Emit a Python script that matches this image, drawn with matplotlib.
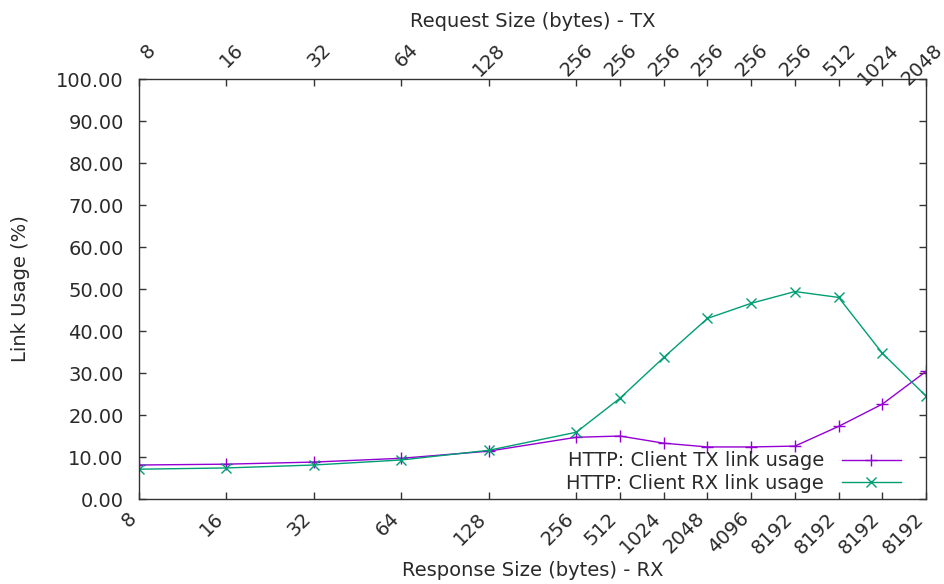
import numpy as np
import matplotlib.pyplot as plt

# response / request sizes for each run (bytes)
rx_size = [8, 16, 32, 64, 128, 256, 512, 1024, 2048, 4096, 8192, 8192, 8192, 8192]
tx_size = [8, 16, 32, 64, 128, 256, 256, 256, 256, 256, 256, 512, 1024, 2048]

# link usage (%)
tx_usage = [8.1, 8.3, 8.8, 9.7, 11.4, 14.7, 15.0, 13.3, 12.4, 12.4, 12.6, 17.3, 22.6, 30.4]
rx_usage = [7.1, 7.4, 8.1, 9.3, 11.6, 15.9, 24.0, 33.7, 43.0, 46.6, 49.4, 48.0, 34.7, 24.5]

x = np.log2(np.array(rx_size) * np.array(tx_size))

txt = '#2a2a2a'
plt.rcParams['font.family'] = 'DejaVu Sans'
plt.rcParams['font.size'] = 14

fig = plt.figure(figsize=(9.45, 5.84), dpi=100)
ax = fig.add_axes([0.147, 0.1455, 0.833, 0.7192])

ax.plot(x, tx_usage, color='#9400d3', linewidth=1, marker='+', markersize=9,
        markeredgewidth=1, label='HTTP: Client TX link usage')
ax.plot(x, rx_usage, color='#009e73', linewidth=1, marker='x', markersize=7,
        markeredgewidth=1, label='HTTP: Client RX link usage')

ax.set_xlim(x[0], x[-1])
ax.set_ylim(0, 100)
ax.set_yticks(np.arange(0, 101, 10))
ax.set_yticklabels(['%.2f' % v for v in np.arange(0, 101, 10)], color=txt)
ax.set_xticks(x)
ax.set_xticklabels([])
ax.tick_params(direction='in', length=5, width=1, color='#333333',
               right=True, top=True, pad=11)

# rotated tick labels, gnuplot style (right justified, rotate by 45)
trans = ax.get_xaxis_transform()
for xi, r, t in zip(x, rx_size, tx_size):
    ax.annotate(str(r), xy=(xi, 0), xycoords=trans, xytext=(-4, -12),
                textcoords='offset points', ha='right', va='center',
                rotation=45, rotation_mode='anchor', color=txt,
                annotation_clip=False)
    ax.annotate(str(t), xy=(xi, 1), xycoords=trans, xytext=(10, 23),
                textcoords='offset points', ha='right', va='center',
                rotation=45, rotation_mode='anchor', color=txt,
                annotation_clip=False)

for s in ax.spines.values():
    s.set_color('#333333')
    s.set_linewidth(1)

ax.set_xlabel('Response Size (bytes) - RX', color=txt, va='center')
ax.xaxis.set_label_coords(0.5, -0.169)
ax.set_ylabel('Link Usage (%)', color=txt, va='center')
ax.yaxis.set_label_coords(-0.151, 0.5)
ax.text(0.5, 1.137, 'Request Size (bytes) - TX', transform=ax.transAxes,
        ha='center', va='center', color=txt)

leg = ax.legend(loc='lower right', bbox_to_anchor=(0.975, 0.0), frameon=False,
                markerfirst=False, handlelength=3.0, handletextpad=0.95,
                labelspacing=0.2, borderaxespad=0.0, borderpad=0.3)
for t in leg.get_texts():
    t.set_color(txt)

fig.savefig('out.png', dpi=100)
